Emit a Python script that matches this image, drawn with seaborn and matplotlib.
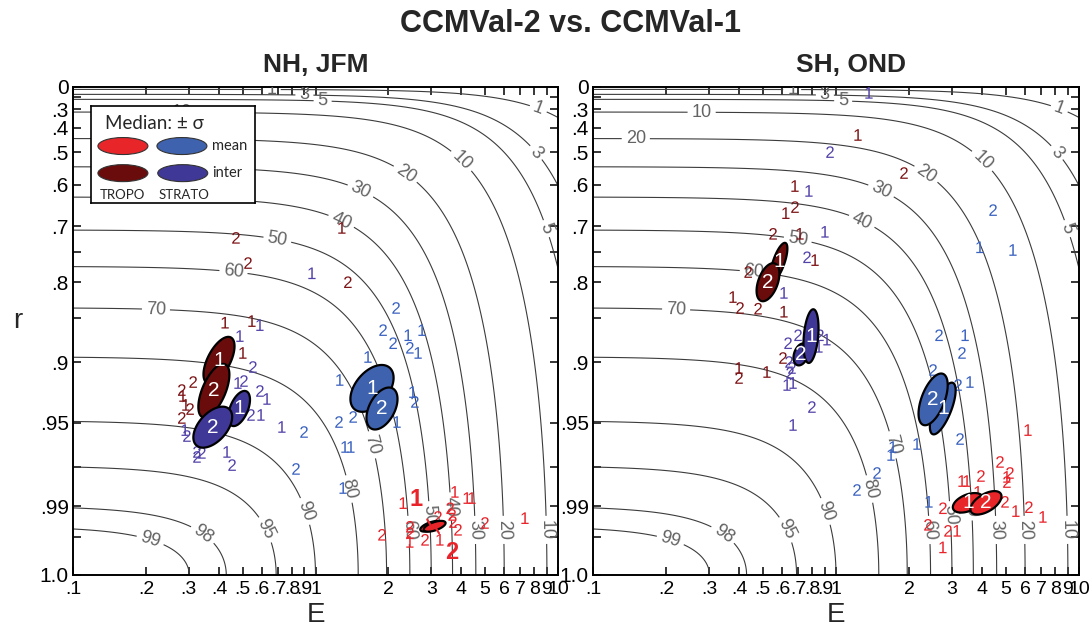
import numpy as np
import pandas as pd
import matplotlib
matplotlib.use("Agg")
import matplotlib.pyplot as plt
from matplotlib.patches import Ellipse
from matplotlib.ticker import FixedLocator, FixedFormatter
import seaborn as sns

# ------------------------------------------------------------------ data
panel_titles = ["NH, JFM", "SH, OND"]
groups = ["TROPO mean", "TROPO inter", "STRATO mean", "STRATO inter"]
digit_colors = {"TROPO mean": "#e8232a", "TROPO inter": "#7d1416",
                "STRATO mean": "#3a62c0", "STRATO inter": "#5342a8"}
fill_colors = {"TROPO mean": "#e8262a", "TROPO inter": "#6a0c0c",
               "STRATO mean": "#3f62ae", "STRATO inter": "#403896"}

# skill contour levels (%) and label anchor points (E, r)
levels = [1, 3, 5, 10, 20, 30, 40, 50, 60, 70, 80, 90, 95, 98, 99]
E_scale = 3.0
label_E = [0.66, 0.9, 1.07, 0.28, 0.15, 8.4, 8.4, 9.5, 4.1, 2.4, 1.55, 1.3, 0.7,
           0.46, 0.22, 1.8, 1.43, 0.95, 0.64, 0.35, 0.21, 2.5, 3.1, 3.8, 4.8, 6.2, 9.3]
label_r = [0.1, 0.18, 0.24, 0.28, 0.44, 0.27, 0.49, 0.70, 0.52, 0.56, 0.61, 0.68, 0.72,
           0.78, 0.835, 0.963, 0.984, 0.991, 0.9954, 0.996, 0.997, 0.9957, 0.9924,
           0.990, 0.9957, 0.9957, 0.9957]

# ---- NH, JFM individual models (digit = CCMVal-1 / CCMVal-2)
nh_tropo_mean_E = [2.30, 3.59, 3.76, 4.22, 4.42, 3.66, 3.69, 3.87, 3.20, 2.45, 2.45, 2.45,
                   2.83, 3.26, 1.88, 5.0, 7.31]
nh_tropo_mean_r = [.9891, .9906, .9854, .9875, .9875, .9924, .9941, .9957, .9929, .9951,
                   .9963, .9977, .9974, .9974, .9966, .9943, .9932]
nh_tropo_mean_id = "12111222222121221"

nh_tropo_inter_E = [.47, .527, .424, .547, 1.285, 1.36, .502, .313, .281, .284, .292, .304, .281]
nh_tropo_inter_r = [.723, .769, .856, .854, .703, .80, .8905, .9185, .9254, .9303, .9373,
                    .9404, .9468]
nh_tropo_inter_id = "2211121221122"

nh_strato_mean_E = [2.15, 1.90, 2.41, 2.75, 2.09, 2.45, 2.65, 1.646, 1.26, 2.52, 2.57, 1.43,
                    1.25, 2.17, .897, .831, 1.323, 1.40, 1.30]
nh_strato_mean_r = [.837, .865, .871, .865, .880, .885, .8905, .8947, .9167, .9271, .935,
                    .9461, .9496, .9496, .9561, .9761, .965, .965, .984]
nh_strato_mean_id = "2211221111222122111"

nh_strato_inter_E = [.967, .590, .488, .552, .40, .479, .507, .590, .631, .542, .596, .727,
                     .290, .295, .3245, .340, .3245, .4315, .453]
nh_strato_inter_r = [.786, .859, .872, .9046, .9185, .9194, .9176, .9262, .9327, .9447,
                     .9447, .9529, .9549, .9586, .9677, .9682, .9703, .9677, .9743]
nh_strato_inter_id = "1112212212111222212"

# ---- SH, OND individual models
sh_tropo_mean_E = [6.17, 4.73, 5.2, 5.05, 5.05, 3.46, 3.30, 3.95, 3.84, 4.96, 5.50, 6.22,
                   7.11, 2.755, 2.39, 2.89, 3.15, 2.755]
sh_tropo_mean_r = [.9549, .9728, .9779, .9796, .9817, .9813, .9813, .9792, .9854, .9887,
                   .9914, .9903, .9929, .9906, .9947, .9959, .9959, .9984]
sh_tropo_mean_id = "122121121212122211"

sh_tropo_inter_E = [1.232, 1.905, .678, .622, .678, .551, .711, .82, .435, .377, .403, .478,
                    .611, .605, .399, .399, .52]
sh_tropo_inter_r = [.4325, .567, .604, .671, .657, .715, .715, .764, .784, .822, .837, .838,
                    .842, .8957, .9056, .9149, .9094]
sh_tropo_inter_id = "12112211212212121"

sh_strato_mean_E = [4.43, 3.91, 5.35, 2.655, 3.40, 3.30, 2.51, 3.18, 3.56, 2.154, 3.24, 1.717,
                    1.684, 1.475, 1.22, 2.414]
sh_strato_mean_r = [.664, .741, .746, .871, .871, .8905, .9075, .9211, .9185, .9633, .9604,
                    .965, .9693, .9779, .9847, .9887]
sh_strato_mean_id = "2112122211211221"

sh_strato_inter_E = [1.367, .945, .774, .901, .760, .611, .698, .635, .859, .918, .851, .641,
                     .659, .647, .629, .666, .796, .666]
sh_strato_inter_r = [.155, .499, .617, .711, .759, .816, .871, .880, .871, .876, .884, .8997,
                     .9056, .9103, .9211, .9194, .9389, .9516]
sh_strato_inter_id = "121121222112221121"

# ---- median +- sigma ellipses: centre (E, r), sigma in log10(E), sigma in sqrt(1-r^2), corr
nh_ell_group = ["TROPO inter", "TROPO inter", "STRATO inter", "STRATO inter",
                "STRATO mean", "STRATO mean", "TROPO mean", "TROPO mean"]
nh_ell_id = ["1", "2", "1", "2", "1", "2", "1", "2"]
nh_ell_E = [0.40, 0.381, 0.484, 0.377, 1.71, 1.88, 3.0, 3.1]
nh_ell_r = [0.898, 0.926, 0.94, 0.953, 0.924, 0.94, 0.995, 0.995]
nh_ell_sE = [0.064, 0.064, 0.045, 0.080, 0.089, 0.064, 0.045, 0.045]
nh_ell_sY = [0.048, 0.055, 0.036, 0.042, 0.048, 0.043, 0.011, 0.011]
nh_ell_rho = [0.6, 0.6, 0.5, 0.5, 0.45, 0.45, 0.6, 0.6]

sh_ell_group = ["TROPO inter", "TROPO inter", "STRATO inter", "STRATO inter",
                "STRATO mean", "STRATO mean", "TROPO mean", "TROPO mean"]
sh_ell_id = ["1", "2", "2", "1", "1", "2", "1", "2"]
sh_ell_E = [0.582, 0.525, 0.718, 0.789, 2.75, 2.51, 3.49, 4.14]
sh_ell_r = [0.767, 0.80, 0.892, 0.872, 0.94, 0.933, 0.989, 0.989]
sh_ell_sE = [0.035, 0.047, 0.031, 0.031, 0.053, 0.060, 0.062, 0.064]
sh_ell_sY = [0.039, 0.039, 0.0225, 0.055, 0.053, 0.053, 0.020, 0.024]
sh_ell_rho = [0.7, 0.45, 0.3, 0.3, 0.7, 0.55, 0.45, 0.55]

r_ticks = [0, .3, .4, .5, .6, .7, .8, .9, .95, .99, 1.0]
r_ticklabels = ["0", ".3", ".4", ".5", ".6", ".7", ".8", ".9", ".95", ".99", "1.0"]
r_minor = [.2, .75, .85, .975, .997]
E_ticks = [.1, .2, .3, .4, .5, .6, .7, .8, .9, 1, 2, 3, 4, 5, 6, 7, 8, 9, 10]
E_ticklabels = [".1", ".2", ".3", ".4", ".5", ".6", ".7", ".8", ".9", "1",
                "2", "3", "4", "5", "6", "7", "8", "9", "10"]


def digits_frame(prefix):
    rows = []
    for g in groups:
        key = prefix + "_" + g.lower().replace(" ", "_")
        Es, rs, ids = globals()[key + "_E"], globals()[key + "_r"], globals()[key + "_id"]
        for e, r, i in zip(Es, rs, ids):
            rows.append({"E": e, "r": r, "group": g, "run": i})
    return pd.DataFrame(rows)


# ------------------------------------------------------------------ style
sns.set_theme(style="white")
plt.rcParams.update({
    "font.family": ["Liberation Sans", "DejaVu Sans"],
    "mathtext.fontset": "custom",
    "mathtext.rm": "Liberation Sans",
    "mathtext.it": "Liberation Sans",
    "mathtext.default": "regular",
    "axes.edgecolor": "black",
    "axes.linewidth": 1.4,
    "xtick.direction": "in", "ytick.direction": "in",
    "xtick.top": True, "ytick.right": True,
    "xtick.bottom": True, "ytick.left": True,
    "xtick.major.size": 6, "ytick.major.size": 6, "ytick.minor.size": 6,
    "xtick.major.width": 1.1, "ytick.major.width": 1.1, "ytick.minor.width": 1.1,
    "xtick.color": "black", "ytick.color": "black",
})
narrow = ["Liberation Sans Narrow", "Liberation Sans", "DejaVu Sans"]


def fwd(r):
    r = np.clip(np.asarray(r, dtype=float), 0.0, 1.0)
    return -np.sqrt(1.0 - r ** 2)


def inv(y):
    y = np.clip(np.asarray(y, dtype=float), -1.0, 0.0)
    return np.sqrt(1.0 - y ** 2)


def ellipse_curve(Ec, rc, sE, sY, rho, n=240):
    t = np.linspace(0, 2 * np.pi, n)
    u = np.log10(Ec) + sE * np.cos(t)
    Yc = np.sqrt(1 - rc ** 2)
    v = Yc + sY * (rho * np.cos(t) + np.sqrt(1 - rho ** 2) * np.sin(t))
    v = np.clip(v, 0, 1)
    return 10 ** u, np.sqrt(1 - v ** 2)


fig = plt.figure(figsize=(10.91, 6.35), dpi=100)
ax_l = fig.add_axes([73 / 1091, 60 / 635, 485 / 1091, 488 / 635])
ax_r = fig.add_axes([593 / 1091, 60 / 635, 486 / 1091, 488 / 635])

Eg = np.logspace(-1, 1, 500)
Yg = np.linspace(0, 1, 500)
rg = np.sqrt(1 - Yg ** 2)
EE, RR = np.meshgrid(Eg, rg)
skill = 100 * RR ** 2 / (1 + (EE / E_scale) ** 2)

for k, (ax, prefix) in enumerate(zip([ax_l, ax_r], ["nh", "sh"])):
    ax.set_xscale("log")
    ax.set_yscale("function", functions=(fwd, inv))
    ax.set_facecolor("white")

    cs = ax.contour(EE, RR, skill, levels=levels, colors="#3c3c3c", linewidths=0.8)
    ax.set_xlim(0.1, 10)
    ax.set_ylim(1.0, 0.0)
    ax.clabel(cs, inline=True, fmt="%d", fontsize=13, colors="#636363",
              manual=list(zip(label_E, label_r)), inline_spacing=4)

    df = digits_frame(prefix)
    sns.scatterplot(data=df, x="E", y="r", hue="group", style="run",
                    palette=digit_colors, markers={"1": "$1$", "2": "$2$"},
                    s=70, linewidth=0, edgecolor="none", legend=False, ax=ax, zorder=6)

    g_ = globals()
    for g, i, e, r, se, sy, rho in zip(g_[prefix + "_ell_group"], g_[prefix + "_ell_id"],
                                       g_[prefix + "_ell_E"], g_[prefix + "_ell_r"],
                                       g_[prefix + "_ell_sE"], g_[prefix + "_ell_sY"],
                                       g_[prefix + "_ell_rho"]):
        xe, ye = ellipse_curve(e, r, se, sy, rho)
        ax.fill(xe, ye, facecolor=fill_colors[g], edgecolor="black", lw=1.6, zorder=7)
        if sy > 0.015:
            ax.text(e, r, i, color="white", fontsize=15, ha="center", va="center", zorder=8)
        else:
            off = (-11, 19) if i == "1" else (12, -19)
            ax.annotate(i, xy=(e, r), xytext=off, textcoords="offset points",
                        color="#e8232a", fontsize=17, fontweight="bold",
                        ha="center", va="center", zorder=9,
                        arrowprops=dict(arrowstyle="-", color="#e8232a", lw=1.5,
                                        shrinkA=4, shrinkB=0))

    ax.set_xlim(0.1, 10)
    ax.set_ylim(1.0, 0.0)
    ax.xaxis.set_major_locator(FixedLocator(E_ticks))
    ax.xaxis.set_major_formatter(FixedFormatter(E_ticklabels))
    ax.xaxis.set_minor_locator(FixedLocator([]))
    ax.yaxis.set_major_locator(FixedLocator(r_ticks))
    ax.yaxis.set_major_formatter(FixedFormatter(r_ticklabels))
    ax.yaxis.set_minor_locator(FixedLocator(r_minor))
    ax.tick_params(axis="x", labelsize=14, pad=4)
    ax.tick_params(axis="y", which="both", labelsize=15, pad=3)
    for lab in ax.get_xticklabels():
        lab.set_fontfamily(narrow)
    ax.set_xlabel("E", fontsize=20, labelpad=3)
    if k == 0:
        ax.set_ylabel("r", fontsize=20, rotation=0, va="center")
        ax.yaxis.set_label_coords(-0.113, 0.52)
    else:
        ax.set_ylabel("")
    ax.set_title(panel_titles[k], fontsize=19, fontweight="bold", pad=11,
                 x=0.5 if k == 0 else 0.53)

# legend box
lg = ax_l.inset_axes([0.037, 0.762, 0.338, 0.199])
lg.set_zorder(20)
lg.set_xlim(0, 1)
lg.set_ylim(0, 1)
lg.set_xticks([])
lg.set_yticks([])
lg.set_facecolor("white")
for s in lg.spines.values():
    s.set_color("black")
    s.set_linewidth(1.2)
lg.text(0.085, 0.82, "Median: ± σ", fontsize=13.5, family=["Lato", "DejaVu Sans"],
        va="center", ha="left")
for g, (cx, cy) in zip(groups, [(0.195, 0.588), (0.195, 0.309), (0.555, 0.588), (0.560, 0.309)]):
    lg.add_patch(Ellipse((cx, cy), 0.305, 0.175, facecolor=fill_colors[g],
                         edgecolor="#333333", lw=0.8))
lg.text(0.74, 0.588, "mean", fontsize=10.5, family=["Lato", "DejaVu Sans"], va="center")
lg.text(0.74, 0.309, "inter", fontsize=10.5, family=["Lato", "DejaVu Sans"], va="center")
lg.text(0.195, 0.085, "TROPO", fontsize=9.5, family=["Lato", "DejaVu Sans"],
        ha="center", va="center")
lg.text(0.565, 0.085, "STRATO", fontsize=9.5, family=["Lato", "DejaVu Sans"],
        ha="center", va="center")

fig.text(0.523, 0.962, "CCMVal-2 vs. CCMVal-1", ha="center", va="center",
         fontsize=22, fontweight="bold")

fig.savefig("out.png", dpi=100)
